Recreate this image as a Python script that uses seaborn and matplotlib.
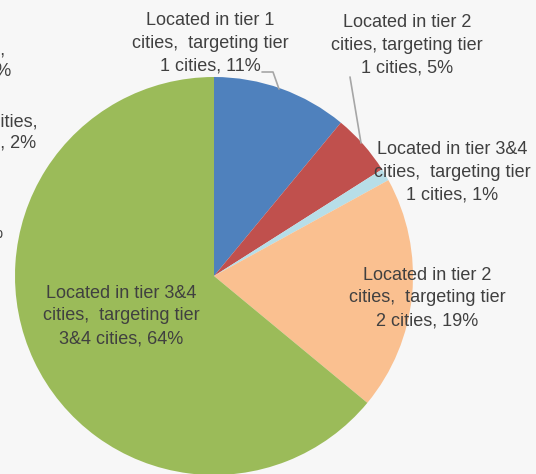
import matplotlib
matplotlib.use("Agg")
import matplotlib.pyplot as plt
import seaborn as sns

# slice data (clockwise from 12 o'clock)
labels = ["Located in tier 1\ncities,  targeting tier\n1 cities, 11%",
          "Located in tier 2\ncities, targeting tier\n1 cities, 5%",
          "Located in tier 3&4\ncities,  targeting tier\n1 cities, 1%",
          "Located in tier 2\ncities,  targeting tier\n2 cities, 19%",
          "Located in tier 3&4\ncities,  targeting tier\n3&4 cities, 64%"]
shares = [11, 5, 1, 19, 64]
colors = ["#4F81BD", "#C0504D", "#B7DEE8", "#FAC090", "#9BBB59"]

# label anchor points (image pixels, y from top)
label_x = [210, 407, 452, 427, 121]
label_y = [43, 45, 172, 298, 316]

# clipped labels from the neighbouring chart on the left
frag_texts = ["cities,", "1 cities, 0%", "Located in tier 1 cities,", "3&4 cities, 2%", "0%"]
frag_x = [5, 11, 38, 36, 3]
frag_y = [50, 71, 122, 143, 233]

sns.set_style("white")
plt.rcParams["font.family"] = ["Liberation Sans", "DejaVu Sans"]

W, H = 536, 474
fig = plt.figure(figsize=(W / 100, H / 100), dpi=100)
fig.patch.set_facecolor("#F7F7F7")
ax = fig.add_axes([0, 0, 1, 1])
ax.set_facecolor("#F7F7F7")

cx, cy, r = 214, 276, 199
ax.pie(shares, colors=colors, startangle=90, counterclock=False,
       center=(cx, H - cy), radius=r,
       wedgeprops=dict(linewidth=0))

txt = "#404040"
for lab, x, y in zip(labels, label_x, label_y):
    ax.text(x, H - y, lab, ha="center", va="center", fontsize=13,
            color=txt, linespacing=1.45)

for t, x, y in zip(frag_texts, frag_x, frag_y):
    ax.text(x, H - y, t, ha="right", va="center", fontsize=13, color=txt)

# leader lines
lc = "#A6A6A6"
ax.plot([262, 273, 279], [H - 72, H - 72, H - 89], color=lc, lw=1.2)
ax.plot([350, 361], [H - 77, H - 143], color=lc, lw=1.2)

ax.set_xlim(0, W)
ax.set_ylim(0, H)
ax.set_aspect("equal")
ax.axis("off")

fig.savefig("out.png", dpi=100, facecolor=fig.get_facecolor())
